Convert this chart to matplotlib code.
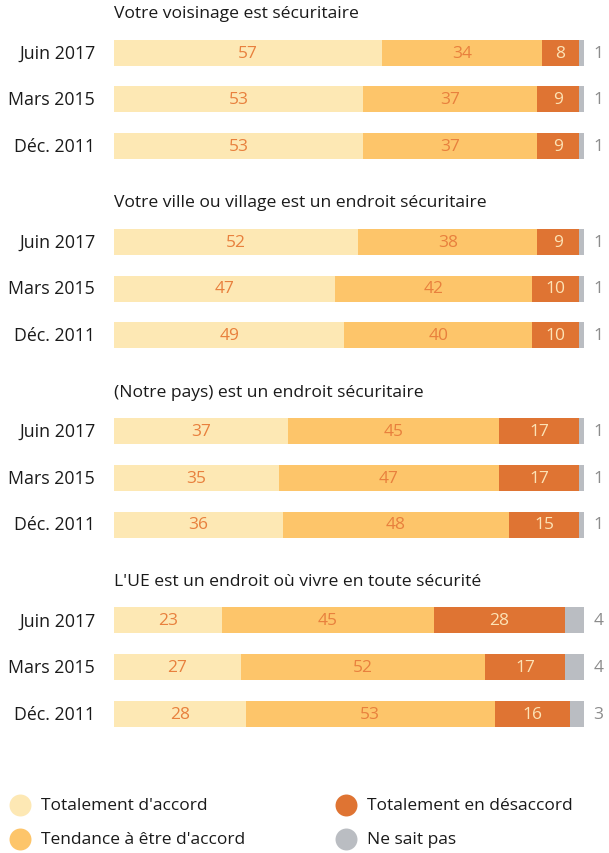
import matplotlib
matplotlib.use("Agg")
import matplotlib.pyplot as plt

plt.rcParams['font.family'] = ['Open Sans', 'DejaVu Sans']

group_titles = [
    "Votre voisinage est sécuritaire",
    "Votre ville ou village est un endroit sécuritaire",
    "(Notre pays) est un endroit sécuritaire",
    "L'UE est un endroit où vivre en toute sécurité",
]
periods = ["Juin 2017", "Mars 2015", "Déc. 2011"]

tot_accord = [[57, 53, 53], [52, 47, 49], [37, 35, 36], [23, 27, 28]]
tend_accord = [[34, 37, 37], [38, 42, 40], [45, 47, 48], [45, 52, 53]]
tot_desaccord = [[8, 9, 9], [9, 10, 10], [17, 17, 15], [28, 17, 16]]
ne_sait_pas = [[1, 1, 1], [1, 1, 1], [1, 1, 1], [4, 4, 3]]

series_names = ["Totalement d'accord", "Tendance à être d'accord",
                "Totalement en désaccord", "Ne sait pas"]
colors = ["#FDE8B4", "#FDC56A", "#DF7433", "#BABDC2"]
label_colors = ["#E8803D", "#E8803D", "#FCE3B6", None]

W, H = 609, 854
fig = plt.figure(figsize=(W / 100, H / 100), dpi=100)

x0, x1 = 114, 584
ax = fig.add_axes([x0 / W, 0, (x1 - x0) / W, 1])
ax.set_xlim(0, 100)
ax.set_ylim(H, 0)
ax.axis("off")

group_pitch = 189.3
title_y0 = 14
row_offset = 39.5
row_pitch = 46.7
bar_h = 26

for g, title in enumerate(group_titles):
    ty = title_y0 + g * group_pitch
    ax.text(0, ty, title, ha="left", va="center", fontsize=12.6, color="#1a1a1a")
    for r, period in enumerate(periods):
        yc = ty + row_offset + r * row_pitch
        vals = [tot_accord[g][r], tend_accord[g][r], tot_desaccord[g][r], ne_sait_pas[g][r]]
        left = 0
        for k, v in enumerate(vals):
            ax.barh(yc, v, left=left, height=bar_h, color=colors[k], linewidth=0)
            if label_colors[k] is not None:
                ax.text(left + v / 2, yc, str(v), ha="center", va="center",
                        fontsize=12.5, color=label_colors[k])
            left += v
        ax.text(left + 2.0, yc, str(vals[3]), ha="left", va="center",
                fontsize=12.5, color="#8C8C8C")
        ax.text(-4.0, yc, period, ha="right", va="center", fontsize=12.8,
                color="#1a1a1a", clip_on=False)

# legend drawn on a full-figure overlay
lax = fig.add_axes([0, 0, 1, 1])
lax.set_xlim(0, W)
lax.set_ylim(H, 0)
lax.axis("off")
leg_pos = [(20, 806), (20, 840), (346, 806), (346, 840)]
for (lx, ly), name, c in zip(leg_pos, series_names, colors):
    lax.scatter([lx], [ly], s=250, color=c, linewidths=0)
    lax.text(lx + 21, ly, name, ha="left", va="center", fontsize=12.5, color="#1a1a1a")

fig.savefig("out.png", dpi=100)
